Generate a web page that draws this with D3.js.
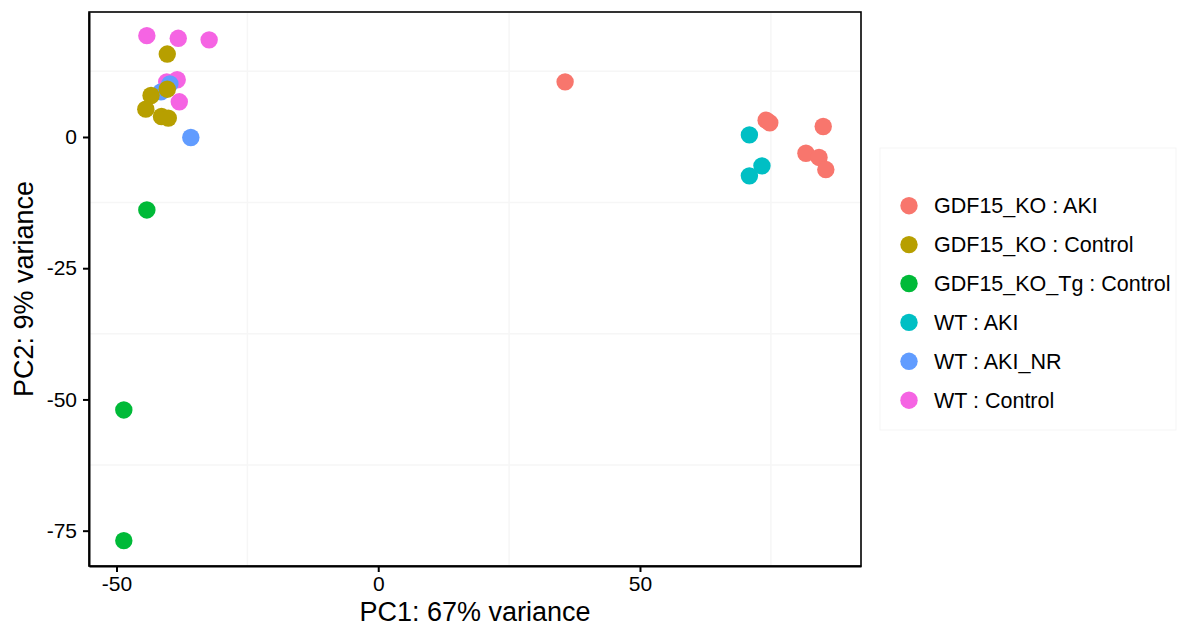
<!DOCTYPE html>
<html>
<head>
<meta charset="utf-8">
<script src="https://cdn.jsdelivr.net/npm/d3@7"></script>
<style>
  body { margin: 0; background: #fff; }
  text { font-family: "Liberation Sans", Arial, sans-serif; fill: #000; }
</style>
</head>
<body>
<svg id="chart" width="1180" height="627"></svg>
<script>
// group labels and their colours (ggplot hue palette)
var groupNames = ["GDF15_KO : AKI", "GDF15_KO : Control", "GDF15_KO_Tg : Control", "WT : AKI", "WT : AKI_NR", "WT : Control"];
var groupColors = ["#F8766D", "#B79F00", "#00BA38", "#00BFC4", "#619CFF", "#F564E3"];

// samples, in drawing order
var sampleGroup = [
  "WT : Control", "WT : Control", "WT : Control", "WT : Control", "WT : Control", "WT : Control",
  "WT : AKI_NR", "WT : AKI_NR", "WT : AKI_NR",
  "GDF15_KO : Control", "GDF15_KO : Control", "GDF15_KO : Control", "GDF15_KO : Control", "GDF15_KO : Control", "GDF15_KO : Control",
  "GDF15_KO_Tg : Control", "GDF15_KO_Tg : Control", "GDF15_KO_Tg : Control",
  "WT : AKI", "WT : AKI", "WT : AKI",
  "GDF15_KO : AKI", "GDF15_KO : AKI", "GDF15_KO : AKI", "GDF15_KO : AKI", "GDF15_KO : AKI", "GDF15_KO : AKI", "GDF15_KO : AKI"
];
var pc1Values = [
  -44.2, -38.2, -32.3, -38.4, -40.4, -38.0,
  -39.8, -41.5, -35.8,
  -40.3, -40.3, -43.4, -44.4, -41.4, -40.1,
  -44.2, -48.6, -48.6,
  70.9, 73.3, 70.9,
  35.7, 74.1, 74.8, 85.0, 81.7, 84.2, 85.5
];
var pc2Values = [
  19.3, 18.8, 18.5, 10.9, 10.5, 6.7,
  10.1, 8.6, -0.1,
  15.8, 9.1, 7.9, 5.3, 3.9, 3.6,
  -13.9, -52.0, -76.9,
  0.4, -5.5, -7.4,
  10.5, 3.2, 2.7, 2.0, -3.1, -3.9, -6.2
];

var xTicks = [-50, 0, 50];
var yTicks = [0, -25, -50, -75];
var xMinor = [-25, 25, 75];
var yMinor = [12.5, -12.5, -37.5, -62.5];

var margin = {top: 12, right: 319, bottom: 61, left: 89};
var width = 1180 - margin.left - margin.right,
    height = 627 - margin.top - margin.bottom;

var svg = d3.select("#chart");
var g = svg.append("g").attr("transform", "translate(" + margin.left + "," + margin.top + ")");

var x = d3.scaleLinear().domain([-55.25, 92.22]).range([0, width]);
var y = d3.scaleLinear().domain([-81.73, 23.81]).range([height, 0]);
var color = d3.scaleOrdinal().domain(groupNames).range(groupColors);

// faint grid
g.selectAll(".vgrid").data(xMinor).join("line")
  .attr("x1", d => x(d)).attr("x2", d => x(d))
  .attr("y1", 0).attr("y2", height)
  .attr("stroke", "#f6f6f6").attr("stroke-width", 1.5);
g.selectAll(".hgrid").data(yMinor).join("line")
  .attr("x1", 0).attr("x2", width)
  .attr("y1", d => y(d)).attr("y2", d => y(d))
  .attr("stroke", "#f6f6f6").attr("stroke-width", 1.5);

// points
var samples = pc1Values.map(function(v, i) { return {pc1: v, pc2: pc2Values[i], group: sampleGroup[i]}; });
g.selectAll("circle.pt").data(samples).join("circle")
  .attr("class", "pt")
  .attr("cx", d => x(d.pc1))
  .attr("cy", d => y(d.pc2))
  .attr("r", 8.7)
  .attr("fill", d => color(d.group));

// panel border
g.append("rect")
  .attr("x", 0).attr("y", 0).attr("width", width).attr("height", height)
  .attr("fill", "none").attr("stroke", "#000").attr("stroke-width", 1.6);

// axes (plain hyphen for negative labels, as in the original)
var fmt = function(d) { return String(d); };
var xAxis = g.append("g").attr("transform", "translate(0," + height + ")")
  .call(d3.axisBottom(x).tickValues(xTicks).tickFormat(fmt).tickSize(6).tickPadding(4).tickSizeOuter(0));
var yAxis = g.append("g")
  .call(d3.axisLeft(y).tickValues(yTicks).tickFormat(fmt).tickSize(6).tickPadding(6).tickSizeOuter(0));
[xAxis, yAxis].forEach(function(a) {
  a.select(".domain").attr("stroke", "#000").attr("stroke-width", 2);
  a.selectAll(".tick line").attr("stroke", "#000").attr("stroke-width", 2);
  a.selectAll(".tick text").style("font-size", "21px").style("font-family", "Liberation Sans, Arial, sans-serif").attr("fill", "#000");
});

// axis titles
svg.append("text")
  .attr("text-anchor", "middle")
  .attr("x", margin.left + width / 2)
  .attr("y", 621)
  .style("font-size", "27px")
  .text("PC1: 67% variance");
svg.append("text")
  .attr("text-anchor", "middle")
  .attr("transform", "rotate(-90)")
  .attr("x", -(margin.top + height / 2))
  .attr("y", 33)
  .style("font-size", "27px")
  .text("PC2: 9% variance");

// legend
var legend = svg.append("g");
legend.append("rect")
  .attr("x", 880).attr("y", 148).attr("width", 296).attr("height", 282)
  .attr("fill", "#fff").attr("stroke", "#f5f5f5").attr("stroke-width", 1);
var items = legend.selectAll("g.item").data(groupNames).join("g")
  .attr("class", "item")
  .attr("transform", (d, i) => "translate(909," + (205.7 + i * 38.9) + ")");
items.append("circle").attr("r", 8.7).attr("fill", d => color(d));
items.append("text")
  .attr("x", 25).attr("dy", "0.35em")
  .style("font-size", "21.5px")
  .text(d => d);
</script>
</body>
</html>
